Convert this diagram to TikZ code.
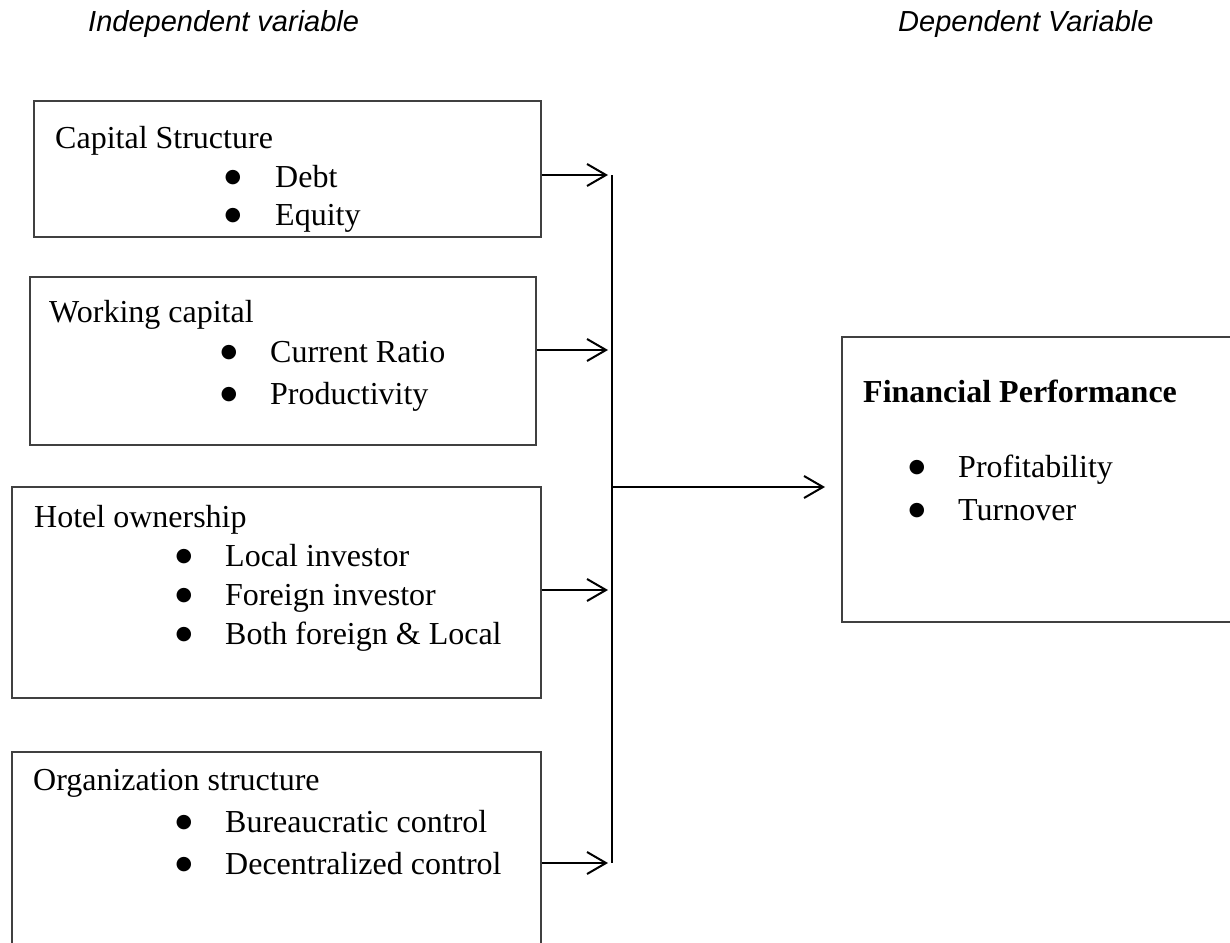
\documentclass[tikz,border=0pt]{standalone}
\usepackage{fontspec}
\setmainfont{Liberation Serif}
\newfontfamily\headfont{Liberation Sans}
\newfontfamily\bulfont{DejaVu Sans}
\usetikzlibrary{arrows.meta}
\begin{document}
\begin{tikzpicture}[x=1pt,y=-1pt,
  box/.style={draw=black!75,line width=1.1pt,inner sep=0pt},
  txt/.style={anchor=base west,inner sep=0pt,font=\fontsize{32}{40}\selectfont},
  bul/.style={anchor=base,inner sep=0pt,yshift=5pt,font=\bulfont\fontsize{19}{20}\selectfont},
  head/.style={anchor=base west,inner sep=0pt,font=\headfont\itshape\fontsize{29}{34}\selectfont},
  arr/.style={line width=2pt,-{Straight Barb[length=19pt,width=22pt]}},
  vline/.style={line width=1.4pt}]
\useasboundingbox (0,0) rectangle (1230,942);
% headings
\node[head] (hind) at (88,32) {Independent variable};
\node[head] (hdep) at (898,32) {Dependent Variable};
% boxes
\node[box,minimum width=507pt,minimum height=136pt] (cap) at (287.5,169) {};
\node[box,minimum width=506pt,minimum height=168pt] (work) at (283,361) {};
\node[box,minimum width=529pt,minimum height=211pt] (hotel) at (276.5,592.5) {};
\node[box,minimum width=529pt,minimum height=194pt] (org) at (276.5,849) {};
\node[box,minimum width=392pt,minimum height=285pt] (fin) at (1038,479.5) {};
% capital structure
\node[txt] (capT) at (55,148) {Capital Structure};
\node[bul] (capB1) at (233,187) {●};
\node[txt] (capI1) at (275,187) {Debt};
\node[bul] (capB2) at (233,225) {●};
\node[txt] (capI2) at (275,225) {Equity};
% working capital
\node[txt] (workT) at (49,322) {Working capital};
\node[bul] (workB1) at (229,362) {●};
\node[txt] (workI1) at (270,362) {Current Ratio};
\node[bul] (workB2) at (229,404) {●};
\node[txt] (workI2) at (270,404) {Productivity};
% hotel ownership
\node[txt] (hotT) at (34,527) {Hotel ownership};
\node[bul] (hotB1) at (184,566) {●};
\node[txt] (hotI1) at (225,566) {Local investor};
\node[bul] (hotB2) at (184,605) {●};
\node[txt] (hotI2) at (225,605) {Foreign investor};
\node[bul] (hotB3) at (184,644) {●};
\node[txt] (hotI3) at (225,644) {Both foreign \& Local};
% organization structure
\node[txt] (orgT) at (33,790) {Organization structure};
\node[bul] (orgB1) at (184,832) {●};
\node[txt] (orgI1) at (225,832) {Bureaucratic control};
\node[bul] (orgB2) at (184,874) {●};
\node[txt] (orgI2) at (225,874) {Decentralized control};
% financial performance
\node[txt,font=\bfseries\fontsize{32}{40}\selectfont] (finT) at (863,402) {Financial Performance};
\node[bul] (finB1) at (917,477) {●};
\node[txt] (finI1) at (958,477) {Profitability};
\node[bul] (finB2) at (917,520) {●};
\node[txt] (finI2) at (958,520) {Turnover};
% connectors
\coordinate (tcap) at (608,175);
\coordinate (twork) at (608,350);
\coordinate (thot) at (608,590);
\coordinate (torg) at (608,863);
\coordinate (vtop) at (612,175);
\coordinate (vbot) at (612,863);
\coordinate (vmid) at (612,487);
\coordinate (tfin) at (825,487);
\draw[arr] (cap.east |- tcap) -- (tcap);
\draw[arr] (work.east |- twork) -- (twork);
\draw[arr] (hotel.east |- thot) -- (thot);
\draw[arr] (org.east |- torg) -- (torg);
\draw[vline] (vtop) -- (vbot);
\draw[arr] (vmid) -- (tfin);
\end{tikzpicture}
\end{document}
